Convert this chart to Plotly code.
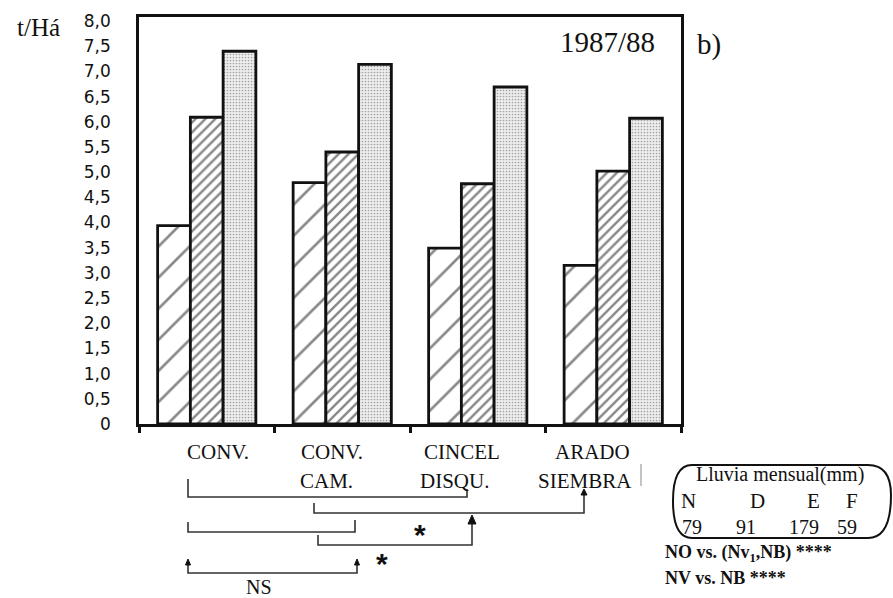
import plotly.graph_objects as go

# ---------------- data ----------------
categories = ["CONV.", "CONV. CAM.", "CINCEL DISQU.", "ARADO SIEMBRA"]
label_line1 = ["CONV.", "CONV.", "CINCEL", "ARADO"]
label_line2 = ["", "CAM.", "DISQU.", "SIEMBRA"]
series_names = ["N0", "Nv1", "NB"]
yield_n0 = [3.94, 4.79, 3.49, 3.15]
yield_nv1 = [6.09, 5.40, 4.77, 5.02]
yield_nb = [7.40, 7.14, 6.69, 6.07]
y_ticks = [0, 0.5, 1.0, 1.5, 2.0, 2.5, 3.0, 3.5, 4.0, 4.5, 5.0, 5.5, 6.0, 6.5, 7.0, 7.5, 8.0]
months = ["N", "D", "E", "F"]
rain_mm = [79, 91, 179, 59]

# ---------------- layout helpers (pixel -> paper) ----------------
W, H = 893, 598
L, R, T, B = 139, 681, 17, 424


def px(x):
    return (x - L) / (R - L)


def py(y):
    return (B - y) / (B - T)


def path(points, close=False):
    s = "M " + " L ".join(f"{px(x):.5f},{py(y):.5f}" for x, y in points)
    return s + (" Z" if close else "")


serif = "Liberation Serif"
ink = "#111111"

fig = go.Figure()
patterns = [
    dict(shape="/", size=22, solidity=0.12, fgcolor=ink, bgcolor="white"),
    dict(shape="/", size=7, solidity=0.35, fgcolor=ink, bgcolor="white"),
    dict(shape=".", size=3, solidity=0.25, fgcolor="#555555", bgcolor="#eeeeee"),
]
for name, vals, pat in zip(series_names, [yield_n0, yield_nv1, yield_nb], patterns):
    fig.add_trace(go.Bar(
        x=categories, y=vals, name=name,
        marker=dict(color="white", pattern=pat, line=dict(color=ink, width=2.8)),
        showlegend=False,
    ))

fig.update_layout(
    width=W, height=H, autosize=False,
    margin=dict(l=L, r=W - R, t=T, b=H - B, pad=0),
    paper_bgcolor="white", plot_bgcolor="white",
    barmode="group", bargap=0.275, bargroupgap=0,
    xaxis=dict(type="category", showticklabels=False, ticks="outside", tickson="boundaries",
               ticklen=6, tickwidth=2.5, tickcolor=ink, showline=True, linewidth=2.5,
               linecolor=ink, mirror=True, showgrid=False, zeroline=False, automargin=False),
    yaxis=dict(range=[0, 8.08], tickvals=y_ticks,
               ticktext=[("0" if v == 0 else f"{v:.1f}".replace(".", ",")) for v in y_ticks],
               ticks="", ticklabelstandoff=22, showline=True, linewidth=2.5, linecolor=ink,
               mirror=True, showgrid=False, zeroline=False, automargin=False,
               tickfont=dict(family="DejaVu Sans", size=17, color=ink)),
)


def txt(x, y, text, size, family=serif, xanchor="center"):
    return dict(x=px(x), y=py(y), xref="paper", yref="paper", text=text, showarrow=False,
                xanchor=xanchor, yanchor="middle", font=dict(family=family, size=size, color=ink))


anns = []
# category labels
shift1 = [11, -10, -16, -21]
shift2 = [0, -16, -23, -28]
for c, t1, t2, s1, s2 in zip(categories, label_line1, label_line2, shift1, shift2):
    anns.append(dict(x=c, xref="x", y=py(452), yref="paper", text=t1, showarrow=False,
                     xshift=s1, xanchor="center", yanchor="middle",
                     font=dict(family=serif, size=21, color=ink)))
    if t2:
        anns.append(dict(x=c, xref="x", y=py(481), yref="paper", text=t2, showarrow=False,
                         xshift=s2, xanchor="center", yanchor="middle",
                         font=dict(family=serif, size=21, color=ink)))

# titles
anns.append(txt(38, 28, "t/Há", 25))
anns.append(txt(607, 42, "1987/88", 29))
anns.append(txt(709, 44, "b)", 29))

# significance marks
anns.append(txt(420, 534, "<b>*</b>", 30, family="Liberation Sans"))
anns.append(txt(382, 563, "<b>*</b>", 30, family="Liberation Sans"))
anns.append(txt(259, 587, "NS", 20))

# rain box
anns.append(txt(780, 474, "Lluvia mensual(mm)", 20))
month_x = [688, 757, 813, 852]
rain_x = [692, 746, 804, 847]
for m, r, mx, rx in zip(months, rain_mm, month_x, rain_x):
    anns.append(txt(mx, 501, m, 21))
    anns.append(txt(rx, 527, str(r), 20))
anns.append(txt(663, 553, "<b>NO vs. (Nv<sub>1</sub>,NB) ****</b>", 18, xanchor="left"))
anns.append(txt(663, 578, "<b>NV vs. NB ****</b>", 18, xanchor="left"))

shapes = []
line_style = dict(color="#333333", width=1.6)
brackets = [
    [(188, 479), (188, 497), (467, 497), (467, 489)],
    [(314, 503), (314, 513), (584, 513), (584, 494)],
    [(188, 522), (188, 532), (355, 532), (355, 520)],
    [(318, 535), (318, 545), (472, 545), (472, 522)],
    [(188, 564), (188, 573), (357, 573), (357, 564)],
]
for b in brackets:
    shapes.append(dict(type="path", xref="paper", yref="paper", path=path(b), line=line_style))
# arrowheads
heads = [(584, 489, 3, 6), (472, 515, 4, 9), (188, 559, 2.5, 6), (357, 559, 2.5, 6)]
for x, y, hw, hh in heads:
    shapes.append(dict(type="path", xref="paper", yref="paper",
                       path=path([(x - hw, y + hh), (x, y), (x + hw, y + hh)], close=True),
                       fillcolor=ink, line=dict(color=ink, width=1)))
# rounded rain box
box = (f"M {px(692):.5f},{py(465):.5f} L {px(868):.5f},{py(465):.5f} "
       f"Q {px(891):.5f},{py(465):.5f} {px(891):.5f},{py(495):.5f} "
       f"Q {px(891):.5f},{py(538):.5f} {px(868):.5f},{py(538):.5f} "
       f"L {px(692):.5f},{py(538):.5f} "
       f"Q {px(673):.5f},{py(538):.5f} {px(673):.5f},{py(501):.5f} "
       f"Q {px(673):.5f},{py(465):.5f} {px(692):.5f},{py(465):.5f} Z")
shapes.append(dict(type="path", xref="paper", yref="paper", path=box,
                   line=dict(color=ink, width=2)))
shapes.append(dict(type="line", xref="paper", yref="paper", x0=px(641), x1=px(641),
                   y0=py(464), y1=py(486), line=dict(color="#888888", width=1)))

fig.update_layout(annotations=anns, shapes=shapes)
fig.write_html("out.html", config={"displayModeBar": False},
               post_script="document.body.style.margin='0px';")
